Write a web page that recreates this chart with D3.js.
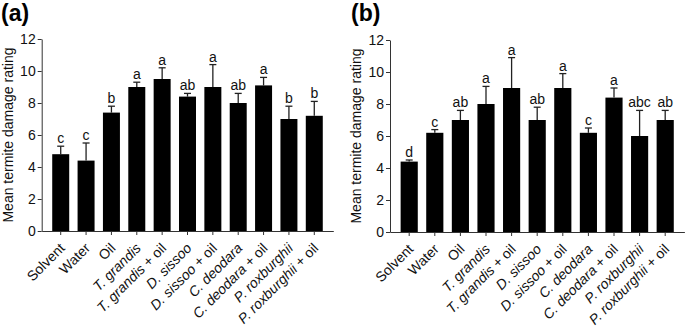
<!DOCTYPE html>
<html><head><meta charset="utf-8">
<script src="https://cdn.jsdelivr.net/npm/d3@7"></script>
<style>body{margin:0;background:#fff}svg{display:block}text{font-family:Arial,"Liberation Sans",sans-serif}</style>
</head><body>
<svg id="c" width="685" height="330"></svg>
<script>
const categories = ["Solvent","Water","Oil","T. grandis","T. grandis + oil","D. sissoo","D. sissoo + oil","C. deodara","C. deodara + oil","P. roxburghii","P. roxburghii + oil"];
const italicPart = [null,null,null,"T. grandis","T. grandis","D. sissoo","D. sissoo","C. deodara","C. deodara","P. roxburghii","P. roxburghii"];
const yTicks = [0,2,4,6,8,10,12];

const meanA = [4.8,4.4,7.4,9.0,9.5,8.4,9.0,8.0,9.1,7.0,7.2];
const errA  = [0.5,1.1,0.4,0.3,0.7,0.2,1.4,0.6,0.5,0.8,0.9];
const letA  = ["c","c","b","a","a","ab","a","ab","a","b","b"];

const meanB = [4.4,6.2,7.0,8.0,9.0,7.0,9.0,6.2,8.4,6.0,7.0];
const errB  = [0.1,0.2,0.6,1.1,1.9,0.8,0.9,0.3,0.6,1.6,0.6];
const letB  = ["d","c","ab","a","a","ab","a","c","a","abc","ab"];

const svg = d3.select("#c");

function panel(cfg){
  const {label, means, errs, letters, x0, x1, yTop, yBot, labelX, titleX} = cfg;
  const g = svg.append("g");
  const x = d3.scaleBand().domain(categories).range([x0, x1]).paddingInner(0.33).paddingOuter(0.415);
  const y = d3.scaleLinear().domain([0,12]).range([yBot, yTop]);
  const data = categories.map((c,i)=>({c, m:means[i], e:errs[i], l:letters[i], it:italicPart[i]}));

  const cap = 3.5;
  g.selectAll("line.eb").data(data).join("line")
    .attr("x1", d=>x(d.c)+x.bandwidth()/2).attr("x2", d=>x(d.c)+x.bandwidth()/2)
    .attr("y1", d=>y(d.m)).attr("y2", d=>y(d.m+d.e))
    .attr("stroke","#222").attr("stroke-width",1.3);
  g.selectAll("line.cap").data(data).join("line")
    .attr("x1", d=>x(d.c)+x.bandwidth()/2-cap).attr("x2", d=>x(d.c)+x.bandwidth()/2+cap)
    .attr("y1", d=>y(d.m+d.e)).attr("y2", d=>y(d.m+d.e))
    .attr("stroke","#222").attr("stroke-width",1.3);

  g.selectAll("rect").data(data).join("rect")
    .attr("x", d=>x(d.c)).attr("width", x.bandwidth())
    .attr("y", d=>y(d.m)).attr("height", d=>y(0)-y(d.m))
    .attr("fill","#000");

  g.selectAll("text.let").data(data).join("text")
    .attr("x", d=>x(d.c)+x.bandwidth()/2).attr("y", d=>y(d.m+d.e)-3)
    .attr("text-anchor","middle").attr("font-size",14).attr("fill","#111")
    .text(d=>d.l);

  const ya = g.append("g").attr("transform",`translate(${x0},0)`)
    .call(d3.axisLeft(y).tickValues(yTicks).tickSize(4).tickPadding(2).tickSizeOuter(0));
  ya.selectAll("path,line").attr("stroke","#333");
  ya.selectAll("text").attr("font-size",14).attr("fill","#111").attr("font-family","Arial,'Liberation Sans',sans-serif");

  const xa = g.append("g").attr("transform",`translate(0,${yBot})`)
    .call(d3.axisBottom(x).tickSize(4).tickSizeOuter(0).tickFormat(""));
  xa.selectAll("path,line").attr("stroke","#333");
  xa.selectAll(".tick").each(function(d,i){
    const t = d3.select(this).append("text")
      .attr("transform","translate(5,18) rotate(-45)")
      .attr("text-anchor","end").attr("font-size",14).attr("fill","#111")
      .attr("font-family","Arial,'Liberation Sans',sans-serif");
    const it = italicPart[i];
    if(it){
      t.append("tspan").attr("font-style","italic").text(it);
      const rest = d.slice(it.length);
      if(rest) t.append("tspan").text(rest);
    } else t.text(d);
  });

  g.append("text").attr("transform",`translate(${labelX},${(yTop+yBot)/2}) rotate(-90)`)
    .attr("text-anchor","middle").attr("font-size",14).attr("fill","#111")
    .text("Mean termite damage rating");

  g.append("text").attr("x", titleX).attr("y", 21)
    .attr("font-size",23).attr("font-weight","bold").attr("fill","#000")
    .text(label);
}

panel({label:"(a)", means:meanA, errs:errA, letters:letA, x0:41.7, x1:333.3, yTop:39, yBot:231, labelX:12.5, titleX:1});
panel({label:"(b)", means:meanB, errs:errB, letters:letB, x0:390, x1:390+25.6*11.5, yTop:40, yBot:232, labelX:361, titleX:351});
</script>
</body></html>
